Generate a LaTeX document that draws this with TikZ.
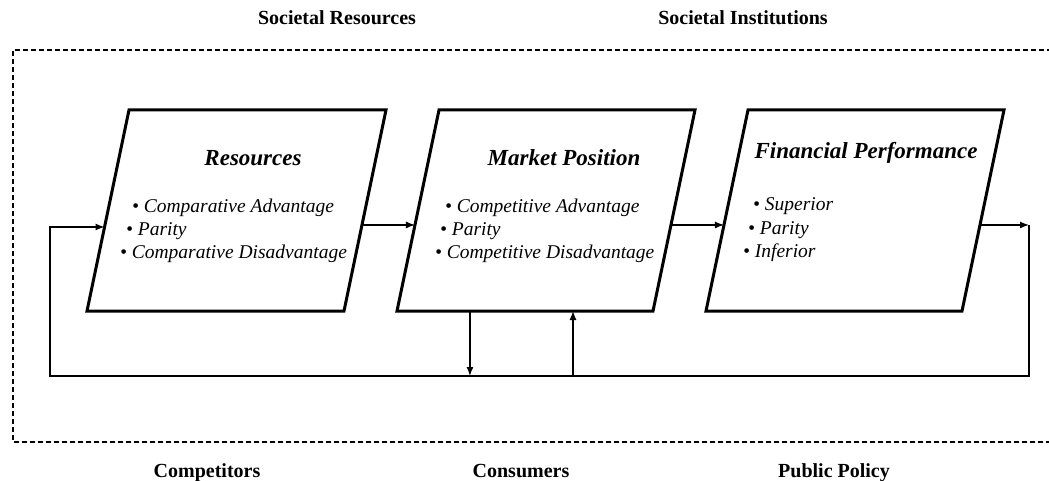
\documentclass[tikz,border=0pt]{standalone}
\usepackage{fontspec}
\setmainfont{Liberation Serif}
\usetikzlibrary{arrows.meta,calc}
\begin{document}
\begin{tikzpicture}[x=1pt,y=-1pt,
  boxline/.style={draw,line width=3pt,line join=miter},
  titletext/.style={font=\fontsize{23}{27}\selectfont\bfseries\itshape,anchor=base,inner sep=0pt},
  itemtext/.style={font=\fontsize{19.5}{23}\selectfont\itshape,anchor=base west,inner sep=0pt},
  outlabel/.style={font=\fontsize{20}{24}\selectfont\bfseries,anchor=base,inner sep=0pt},
  frame/.style={line width=1.4pt,dash pattern=on 5pt off 3pt},
  conn/.style={line width=1.3pt},
  arr/.style={conn,-{Latex[length=9pt,width=7pt]}}
]
\useasboundingbox (0,0) rectangle (1049,481);

% outer dashed frame
\coordinate (fTR) at (1052,50);
\coordinate (fTL) at (13,50);
\coordinate (fBL) at (13,442);
\coordinate (fBR) at (1052,442);
\draw[frame] (fTR) -- (fTL) -- (fBL) -- (fBR);

% outside labels
\node[outlabel] (sr) at (337,25) {Societal Resources};
\node[outlabel] (si) at (743,25) {Societal Institutions};
\node[outlabel] (cp) at (207,477) {Competitors};
\node[outlabel] (cs) at (521,477) {Consumers};
\node[outlabel] (pp) at (834,477) {Public Policy};

% box corners
\coordinate (b1tl) at (129,110); \coordinate (b1tr) at (386,110);
\coordinate (b1br) at (344,311); \coordinate (b1bl) at (87,311);
\coordinate (b2tl) at (439,110); \coordinate (b2tr) at (695,110);
\coordinate (b2br) at (653,311); \coordinate (b2bl) at (397,311);
\coordinate (b3tl) at (748,110); \coordinate (b3tr) at (1004,110);
\coordinate (b3br) at (962,311); \coordinate (b3bl) at (706,311);

% boxes
\draw[boxline] (b1tl) -- (b1tr) -- (b1br) -- (b1bl) -- cycle;
\draw[boxline] (b2tl) -- (b2tr) -- (b2br) -- (b2bl) -- cycle;
\draw[boxline] (b3tl) -- (b3tr) -- (b3br) -- (b3bl) -- cycle;

% texts
\node[titletext] (t1) at (253,166) {Resources};
\node[itemtext] (t1a) at (132,212) {\textbullet\ Comparative Advantage};
\node[itemtext] (t1b) at (126,235) {\textbullet\ Parity};
\node[itemtext] (t1c) at (120,258) {\textbullet\ Comparative Disadvantage};

\node[titletext] (t2) at (564,166) {Market Position};
\node[itemtext] (t2a) at (445,212) {\textbullet\ Competitive Advantage};
\node[itemtext] (t2b) at (440,235) {\textbullet\ Parity};
\node[itemtext] (t2c) at (435,258) {\textbullet\ Competitive Disadvantage};

\node[titletext] (t3) at (866,159) {Financial Performance};
\node[itemtext] (t3a) at (753,211) {\textbullet\ Superior};
\node[itemtext] (t3b) at (748,234) {\textbullet\ Parity};
\node[itemtext] (t3c) at (743,257) {\textbullet\ Inferior};

% forward connectors
\coordinate (o1) at ($(b1tr)!0.572!(b1br)$);
\coordinate (i2) at ($(b2tl)!0.572!(b2bl)$);
\coordinate (o2) at ($(b2tr)!0.572!(b2br)$);
\coordinate (i3) at ($(b3tl)!0.572!(b3bl)$);
\coordinate (o3) at ($(b3tr)!0.572!(b3br)$);
\coordinate (i1) at ($(b1tl)!0.582!(b1bl)$);
\draw[arr] (o1) -- (i2);
\draw[arr] (o2) -- (i3);

% feedback loop
\coordinate (fbL) at (50,376);
\coordinate (fbR) at (1029,376);
\coordinate (tr) at (fbR |- o3);
\coordinate (tl) at (fbL |- i1);
\draw[arr] (o3) -- (tr);
\draw[arr] (tr) -- (fbR) -- (fbL) -- (tl) -- (i1);

% vertical links market position <-> loop
\coordinate (d1) at ($(b2bl)!0.285!(b2br)$);
\coordinate (u1) at ($(b2bl)!0.6875!(b2br)$);
\draw[arr] (d1) -- (d1 |- fbL);
\draw[arr] (u1 |- fbL) -- (u1);
\end{tikzpicture}
\end{document}
